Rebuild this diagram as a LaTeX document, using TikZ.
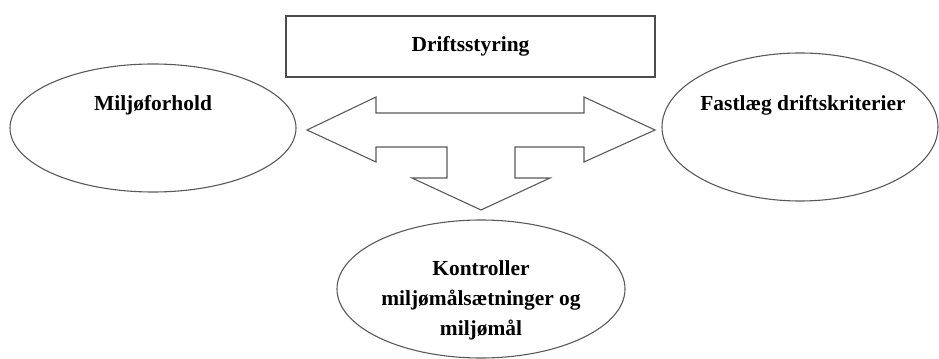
\documentclass[tikz,border=0pt]{standalone}
\usepackage{fontspec}
\setmainfont{Liberation Serif}
\usepackage{tikz}
\usetikzlibrary{positioning,shapes.geometric}

\tikzset{
  boxnode/.style={draw=black!70,line width=1.1pt,rectangle,inner sep=0pt},
  ovalnode/.style={draw=black!65,line width=1.1pt,ellipse,inner sep=0pt},
  lbl/.style={font=\bfseries\fontsize{21.5}{30}\selectfont,align=center},
}

\begin{document}
\begin{tikzpicture}[line join=miter]
\useasboundingbox (0bp,0bp) rectangle (939bp,359bp);
%%
\node (styring) at (470.5bp,312.5bp) [boxnode,minimum width=369bp,minimum height=61bp] {};
  \node (styring_lbl) at (styring.center) [lbl] {Driftsstyring};
\node (miljo) at (153bp,231bp) [ovalnode,minimum width=286bp,minimum height=128bp] {};
  \node (miljo_lbl) at (153bp,254bp) [lbl] {Miljøforhold};
\node (kriterier) at (800bp,232bp) [ovalnode,minimum width=276bp,minimum height=148bp] {};
  \node (kriterier_lbl) at (803bp,254bp) [lbl] {Fastlæg driftskriterier};
\node (kontrol) at (481bp,70bp) [ovalnode,minimum width=288bp,minimum height=138bp] {};
  \node (kontrol_lbl) at (481bp,59bp) [lbl] {Kontroller\\miljømålsætninger og\\miljømål};
%
\draw [black!65,line width=1.1pt] (307bp,229bp) -- (376bp,262bp) -- (376bp,246bp)
  -- (584bp,246bp) -- (584bp,262bp) -- (655bp,229bp) -- (584bp,197bp) -- (584bp,212bp)
  -- (515bp,212bp) -- (515bp,181bp) -- (550bp,181bp) -- (481bp,149bp) -- (412bp,181bp)
  -- (447bp,181bp) -- (447bp,212bp) -- (376bp,212bp) -- (376bp,197bp) -- cycle;
%
\end{tikzpicture}
\end{document}
